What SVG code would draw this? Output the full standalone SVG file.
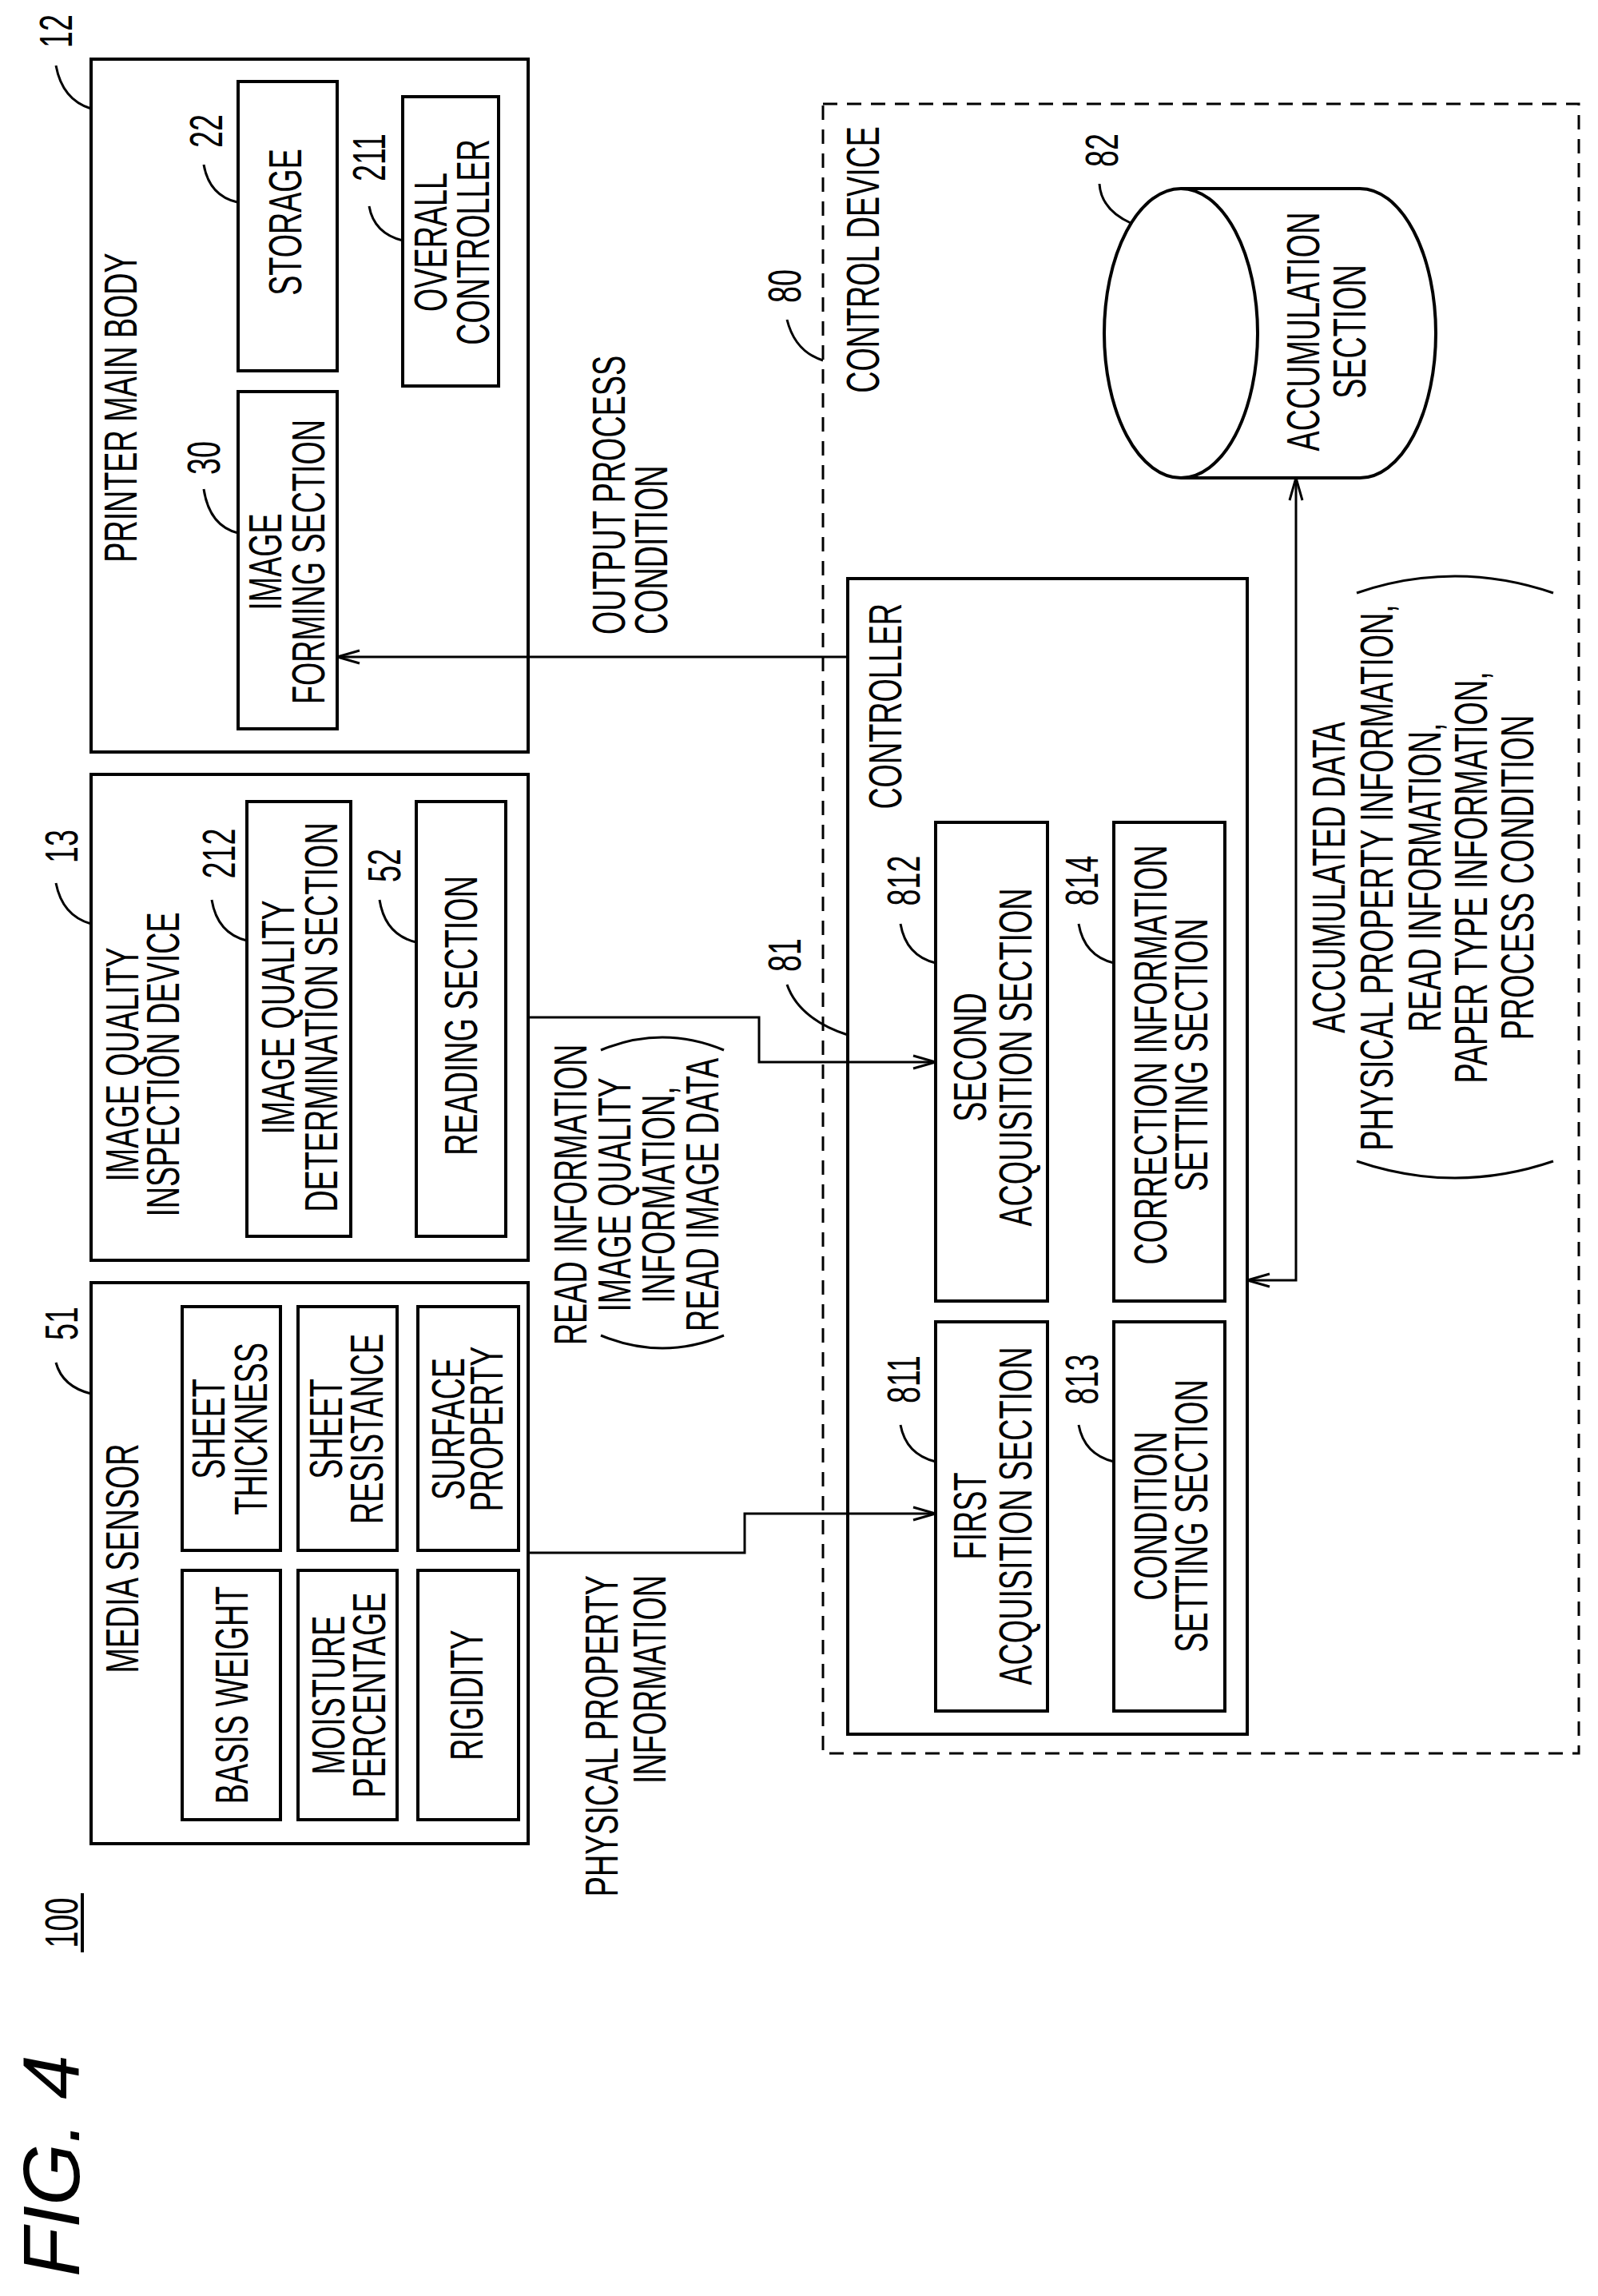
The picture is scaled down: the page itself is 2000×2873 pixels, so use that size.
<svg xmlns="http://www.w3.org/2000/svg" width="2000" height="2873" viewBox="0 0 2000 2873">
<style>
.b{fill:none;stroke:#000;stroke-width:4}
.t{font-family:"Liberation Sans",Arial,sans-serif;font-size:58px;fill:#000}
.m{text-anchor:middle}
.e{text-anchor:end}
.s{text-anchor:start}
.l{fill:none;stroke:#000;stroke-width:3}
</style>
<defs>
<marker id="a" viewBox="0 0 30 20" refX="29" refY="10" markerWidth="30" markerHeight="20" markerUnits="userSpaceOnUse" orient="auto-start-reverse">
<path d="M1,2 L29,10 L1,18" fill="none" stroke="#000" stroke-width="3"/>
</marker>
</defs>
<rect width="2000" height="2873" fill="#fff"/>

<g id="fig">
<text class="t m" transform="translate(99,2710) rotate(-90)" style="font-size:100px;font-style:italic">FIG. 4</text>
<text class="t m" transform="translate(97,2406) rotate(-90) scale(0.65,1)">100</text>
<line x1="103" y1="2369" x2="103" y2="2443" stroke="#000" stroke-width="4"/>
</g>

<g id="printer">
<rect class="b" x="114" y="74" width="547" height="867"/>
<text class="t m" transform="translate(171,510) rotate(-90) scale(0.65,1)">PRINTER MAIN BODY</text>
<text class="t m" transform="translate(90,39) rotate(-90) scale(0.65,1)">12</text>
<path class="l" d="M114,136 Q78,125 70,82"/>
</g>
<g id="storage">
<rect class="b" x="298" y="102" width="124" height="362"/>
<text class="t m" transform="translate(377,278) rotate(-90) scale(0.65,1)">STORAGE</text>
<text class="t m" transform="translate(278,164) rotate(-90) scale(0.65,1)">22</text>
<path class="l" d="M297,253 Q262,245 255,206"/>
</g>
<g id="overall">
<rect class="b" x="504" y="121" width="120" height="362"/>
<text class="t m" transform="translate(559,303) rotate(-90) scale(0.65,1)"><tspan x="0">OVERALL</tspan><tspan x="0" dy="53">CONTROLLER</tspan></text>
<text class="t m" transform="translate(482,197) rotate(-90) scale(0.65,1)">211</text>
<path class="l" d="M504,301 Q468,292 462,258"/>
</g>
<g id="imageforming">
<rect class="b" x="298" y="490" width="124" height="422"/>
<text class="t m" transform="translate(352,703) rotate(-90) scale(0.65,1)"><tspan x="0">IMAGE</tspan><tspan x="0" dy="54">FORMING SECTION</tspan></text>
<text class="t m" transform="translate(275,573) rotate(-90) scale(0.65,1)">30</text>
<path class="l" d="M298,667 Q262,658 255,612"/>
</g>

<g id="iqdevice">
<rect class="b" x="114" y="969" width="547" height="608"/>
<text class="t m" transform="translate(173,1332) rotate(-90) scale(0.65,1)"><tspan x="0">IMAGE QUALITY</tspan><tspan x="0" dy="51">INSPECTION DEVICE</tspan></text>
<text class="t m" transform="translate(97,1059) rotate(-90) scale(0.65,1)">13</text>
<path class="l" d="M114,1156 Q78,1146 70,1105"/>
</g>
<g id="iqdet">
<rect class="b" x="309" y="1003" width="130" height="544"/>
<text class="t m" transform="translate(368,1273) rotate(-90) scale(0.65,1)"><tspan x="0">IMAGE QUALITY</tspan><tspan x="0" dy="54">DETERMINATION SECTION</tspan></text>
<text class="t m" transform="translate(294,1068) rotate(-90) scale(0.65,1)">212</text>
<path class="l" d="M309,1177 Q272,1168 265,1126"/>
</g>
<g id="reading">
<rect class="b" x="521" y="1003" width="112" height="544"/>
<text class="t m" transform="translate(597,1271) rotate(-90) scale(0.65,1)">READING SECTION</text>
<text class="t m" transform="translate(501,1083) rotate(-90) scale(0.65,1)">52</text>
<path class="l" d="M521,1179 Q482,1170 475,1126"/>
</g>

<g id="media">
<rect class="b" x="114" y="1605" width="547" height="702"/>
<text class="t m" transform="translate(173,1950) rotate(-90) scale(0.65,1)">MEDIA SENSOR</text>
<text class="t m" transform="translate(97,1656) rotate(-90) scale(0.65,1)">51</text>
<path class="l" d="M114,1744 Q78,1735 70,1705"/>
</g>
<g id="thickness">
<rect class="b" x="228" y="1635" width="123" height="305"/>
<text class="t m" transform="translate(281,1788) rotate(-90) scale(0.65,1)"><tspan x="0">SHEET</tspan><tspan x="0" dy="53">THICKNESS</tspan></text>
</g>
<g id="resistance">
<rect class="b" x="373" y="1635" width="124" height="305"/>
<text class="t m" transform="translate(428,1788) rotate(-90) scale(0.65,1)"><tspan x="0">SHEET</tspan><tspan x="0" dy="51">RESISTANCE</tspan></text>
</g>
<g id="surface">
<rect class="b" x="523" y="1635" width="126" height="305"/>
<text class="t m" transform="translate(581,1788) rotate(-90) scale(0.65,1)"><tspan x="0">SURFACE</tspan><tspan x="0" dy="48">PROPERTY</tspan></text>
</g>
<g id="basis">
<rect class="b" x="228" y="1965" width="123" height="312"/>
<text class="t m" transform="translate(310,2121) rotate(-90) scale(0.65,1)">BASIS WEIGHT</text>
</g>
<g id="moisture">
<rect class="b" x="373" y="1965" width="124" height="312"/>
<text class="t m" transform="translate(431,2121) rotate(-90) scale(0.65,1)"><tspan x="0">MOISTURE</tspan><tspan x="0" dy="51">PERCENTAGE</tspan></text>
</g>
<g id="rigidity">
<rect class="b" x="523" y="1965" width="126" height="312"/>
<text class="t m" transform="translate(604,2121) rotate(-90) scale(0.65,1)">RIGIDITY</text>
</g>

<g id="controldevice">
<rect x="1030" y="130" width="946" height="2064" fill="none" stroke="#000" stroke-width="3" stroke-dasharray="18 12"/>
<text class="t e" transform="translate(1100,158) rotate(-90) scale(0.65,1)">CONTROL DEVICE</text>
<text class="t m" transform="translate(1002,358) rotate(-90) scale(0.65,1)">80</text>
<path class="l" d="M1030,451 Q995,440 985,400"/>
</g>
<g id="accumulation">
<path class="b" d="M1478,236 L1702,236 A95,181 0 0 1 1702,598 L1478,598"/>
<ellipse class="b" cx="1478" cy="417" rx="96" ry="181"/>
<text class="t m" transform="translate(1651,415) rotate(-90) scale(0.65,1)"><tspan x="0">ACCUMULATION</tspan><tspan x="0" dy="58">SECTION</tspan></text>
<text class="t m" transform="translate(1399,188) rotate(-90) scale(0.65,1)">82</text>
<path class="l" d="M1415,279 Q1378,262 1376,230"/>
</g>
<g id="controller">
<rect class="b" x="1061" y="724" width="500" height="1446"/>
<text class="t e" transform="translate(1128,755) rotate(-90) scale(0.65,1)">CONTROLLER</text>
<text class="t m" transform="translate(1002,1195) rotate(-90) scale(0.65,1)">81</text>
<path class="l" d="M1061,1295 Q1000,1275 985,1232"/>
</g>
<g id="s812">
<rect class="b" x="1171" y="1029" width="140" height="599"/>
<text class="t m" transform="translate(1234,1323) rotate(-90) scale(0.65,1)"><tspan x="0">SECOND</tspan><tspan x="0" dy="57">ACQUISITION SECTION</tspan></text>
<text class="t m" transform="translate(1151,1102) rotate(-90) scale(0.65,1)">812</text>
<path class="l" d="M1171,1205 Q1134,1196 1127,1156"/>
</g>
<g id="s814">
<rect class="b" x="1394" y="1029" width="139" height="599"/>
<text class="t m" transform="translate(1460,1320) rotate(-90) scale(0.65,1)"><tspan x="0">CORRECTION INFORMATION</tspan><tspan x="0" dy="51">SETTING SECTION</tspan></text>
<text class="t m" transform="translate(1374,1102) rotate(-90) scale(0.65,1)">814</text>
<path class="l" d="M1394,1205 Q1357,1196 1350,1156"/>
</g>
<g id="s811">
<rect class="b" x="1171" y="1654" width="140" height="487"/>
<text class="t m" transform="translate(1234,1897) rotate(-90) scale(0.65,1)"><tspan x="0">FIRST</tspan><tspan x="0" dy="57">ACQUISITION SECTION</tspan></text>
<text class="t m" transform="translate(1151,1726) rotate(-90) scale(0.65,1)">811</text>
<path class="l" d="M1171,1829 Q1134,1820 1127,1783"/>
</g>
<g id="s813">
<rect class="b" x="1394" y="1654" width="139" height="487"/>
<text class="t m" transform="translate(1460,1897) rotate(-90) scale(0.65,1)"><tspan x="0">CONDITION</tspan><tspan x="0" dy="51">SETTING SECTION</tspan></text>
<text class="t m" transform="translate(1374,1726) rotate(-90) scale(0.65,1)">813</text>
<path class="l" d="M1394,1829 Q1357,1820 1350,1783"/>
</g>

<g id="connectors">
<path class="l" d="M1061,822 L422,822" marker-end="url(#a)"/>
<path class="l" d="M661,1273 L950,1273 L950,1329 L1171,1329" marker-end="url(#a)"/>
<path class="l" d="M661,1943 L932,1943 L932,1894 L1171,1894" marker-end="url(#a)"/>
<path class="l" d="M1622,598 L1622,1602 L1561,1602" marker-start="url(#a)" marker-end="url(#a)"/>
</g>

<g id="labels">
<text class="t s" transform="translate(782,794) rotate(-90) scale(0.65,1)"><tspan x="0">OUTPUT PROCESS</tspan><tspan x="0" dy="53">CONDITION</tspan></text>
<text class="t m" transform="translate(734,1495) rotate(-90) scale(0.65,1)"><tspan x="0">READ INFORMATION</tspan><tspan x="0" dy="55">IMAGE QUALITY</tspan><tspan x="0" dy="55">INFORMATION,</tspan><tspan x="0" dy="55">READ IMAGE DATA</tspan></text>
<path class="l" d="M752,1314 Q829,1282 906,1314"/>
<path class="l" d="M752,1671 Q829,1703 906,1671"/>
<text class="t e" transform="translate(773,1971) rotate(-90) scale(0.65,1)"><tspan x="0">PHYSICAL PROPERTY</tspan><tspan x="0" dy="60">INFORMATION</tspan></text>
<text class="t m" transform="translate(1683,1098) rotate(-90) scale(0.65,1)"><tspan x="0">ACCUMULATED DATA</tspan><tspan x="0" dy="60">PHYSICAL PROPERTY INFORMATION,</tspan><tspan x="0" dy="60">READ INFORMATION,</tspan><tspan x="0" dy="58">PAPER TYPE INFORMATION,</tspan><tspan x="0" dy="58">PROCESS CONDITION</tspan></text>
<path class="l" d="M1698,742 Q1821,700 1944,742"/>
<path class="l" d="M1698,1453 Q1821,1495 1944,1453"/>
</g>
</svg>
